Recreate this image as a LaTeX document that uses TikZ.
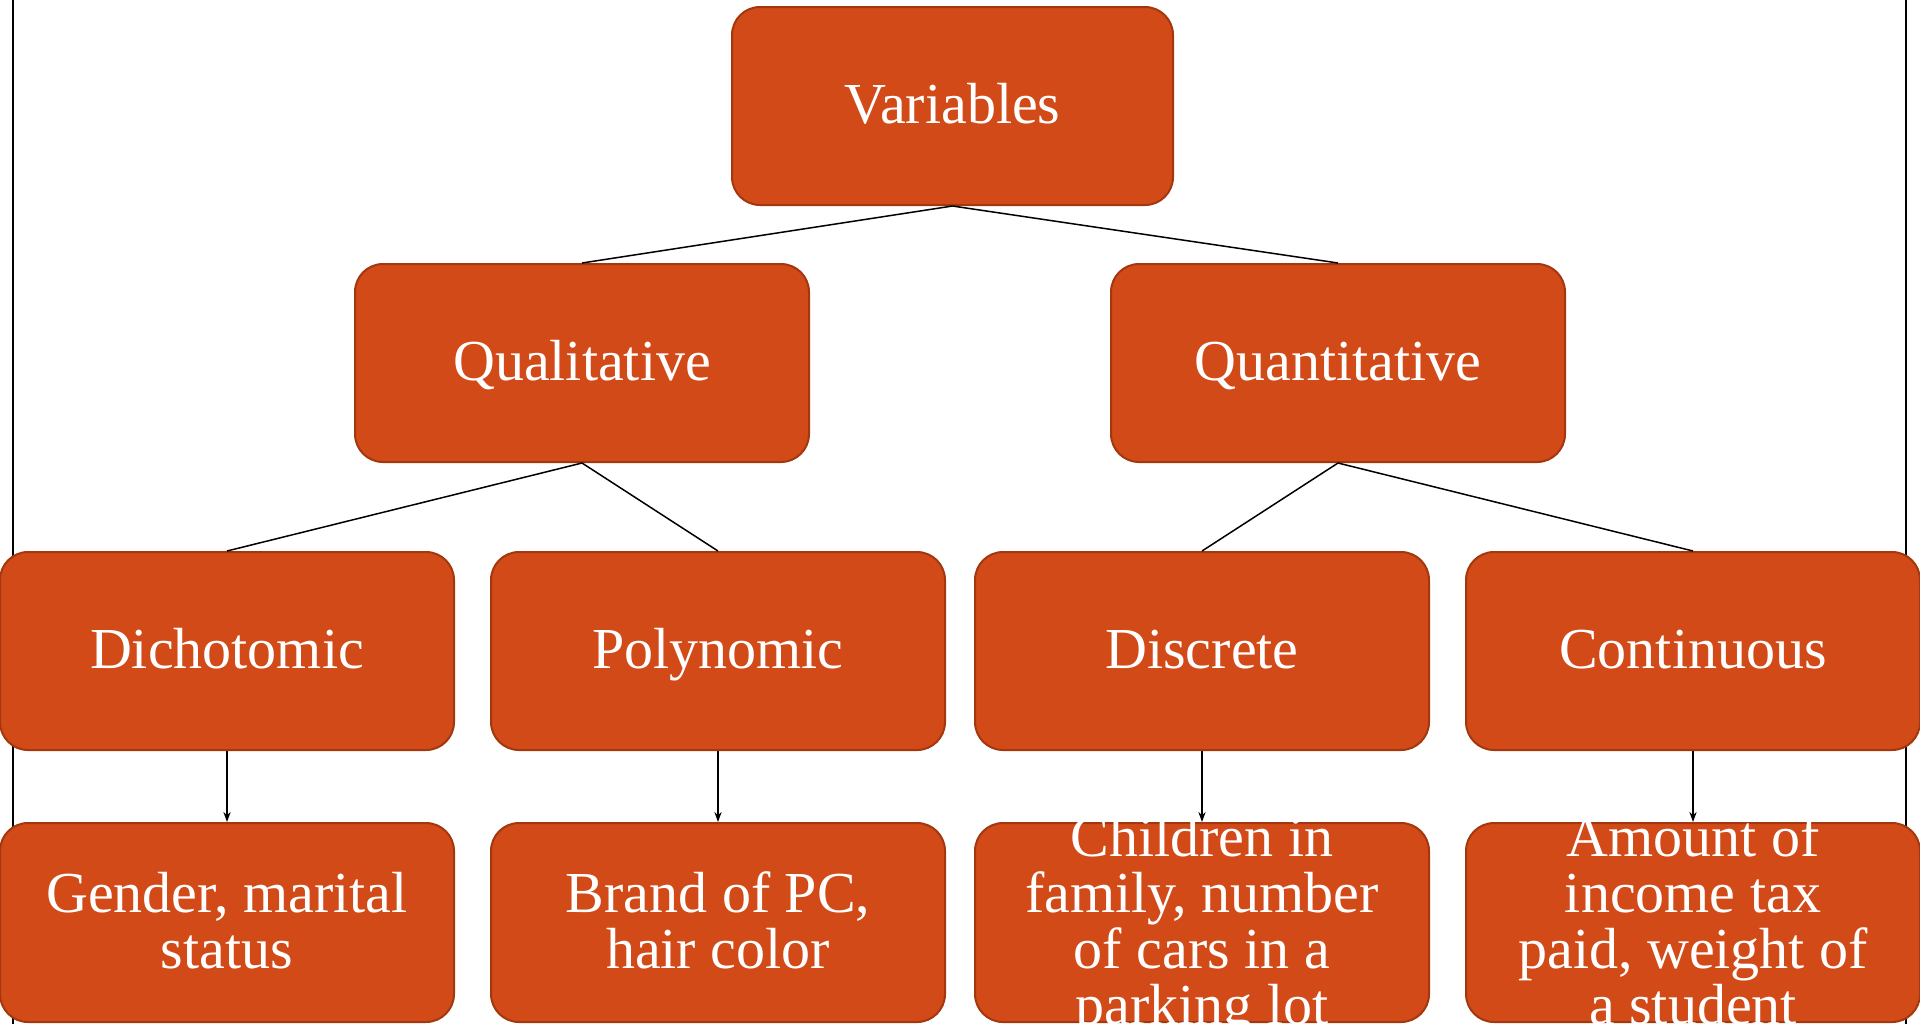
\documentclass[tikz,border=0pt]{standalone}
\usepackage{fontspec}
\setmainfont{Liberation Serif}
\usetikzlibrary{arrows.meta}
\definecolor{boxfill}{HTML}{D14A18}
\definecolor{boxline}{HTML}{A3380F}
\tikzset{
  catbox/.style={draw=boxline, line width=1pt, fill=boxfill, rounded corners=14pt,
    minimum width=227pt, minimum height=99pt, inner sep=0pt},
  boxtext/.style={align=center, text=white, inner sep=0pt, yshift=-3pt,
    font=\fontsize{29pt}{28pt}\selectfont,
    execute at begin node=\strut, execute at end node=\strut},
  link/.style={draw=black, line width=0.75pt},
  arrowlink/.style={link, -{Stealth[length=5pt,width=3.6pt,inset=1.6pt]}},
  frameline/.style={draw=black, line width=1pt}
}
\begin{document}
\begin{tikzpicture}[x=0.5pt, y=-0.5pt]
\useasboundingbox (0,0) rectangle (1920,1024);
\fill[white] (0,0) rectangle (1920,1024);
% side lines
\coordinate (lt) at (13,0); \coordinate (lb) at (13,1024);
\coordinate (rt) at (1906,0); \coordinate (rb) at (1906,1024);
\draw[frameline] (lt) -- (lb);
\draw[frameline] (rt) -- (rb);
% level 1
\node[catbox, minimum width=220.5pt, label={[boxtext]center:Variables}] (var) at (952.5,106) {};
% level 2
\node[catbox, label={[boxtext]center:Qualitative}] (qual) at (582,363) {};
\node[catbox, label={[boxtext]center:Quantitative}] (quan) at (1338,363) {};
% level 3
\node[catbox, label={[boxtext]center:Dichotomic}] (dich) at (227,651) {};
\node[catbox, label={[boxtext]center:Polynomic}] (poly) at (718,651) {};
\node[catbox, label={[boxtext]center:Discrete}] (disc) at (1202,651) {};
\node[catbox, label={[boxtext]center:Continuous}] (cont) at (1693,651) {};
% level 4
\node[catbox, minimum height=99.5pt, label={[boxtext]center:{Gender, marital\\status}}] (ex1) at (227,922.5) {};
\node[catbox, minimum height=99.5pt, label={[boxtext]center:{Brand of PC,\\hair color}}] (ex2) at (718,922.5) {};
\node[catbox, minimum height=99.5pt, label={[boxtext]center:{Children in\\family, number\\of cars in a\\parking lot}}] (ex3) at (1202,922.5) {};
\node[catbox, minimum height=99.5pt, label={[boxtext]center:{Amount of\\income tax\\paid, weight of\\a student}}] (ex4) at (1693,922.5) {};
% connectors
\draw[link] (var.south) -- (qual.north);
\draw[link] (var.south) -- (quan.north);
\draw[link] (qual.south) -- (dich.north);
\draw[link] (qual.south) -- (poly.north);
\draw[link] (quan.south) -- (disc.north);
\draw[link] (quan.south) -- (cont.north);
\draw[arrowlink] (dich.south) -- (ex1.north);
\draw[arrowlink] (poly.south) -- (ex2.north);
\draw[arrowlink] (disc.south) -- (ex3.north);
\draw[arrowlink] (cont.south) -- (ex4.north);
\end{tikzpicture}
\end{document}
